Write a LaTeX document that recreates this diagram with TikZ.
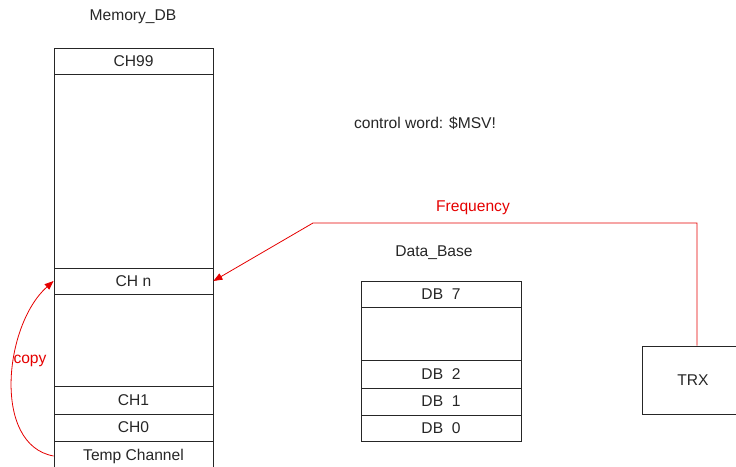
\documentclass[tikz,border=0pt]{standalone}
\usepackage{fontspec}
\setmainfont{Liberation Sans}
\usetikzlibrary{arrows.meta}
\begin{document}
\begin{tikzpicture}[x=1pt,y=-1pt,
  font=\fontsize{15.6}{18}\selectfont,
  cell/.style={draw=black!85, line width=0.8pt, rectangle, inner sep=0pt, text=black!85},
  lbl/.style={text=black!85, inner sep=0pt},
  redline/.style={draw=red!90!black, line width=0.8pt},
  redtip/.style={-{Triangle[length=9pt,width=7pt]}},
  redlbl/.style={text=red!90!black, inner sep=0pt}]
\useasboundingbox (0,0) rectangle (736,466);
\clip (0,0) rectangle (736,466);
% Memory_DB column
\node[lbl] (mlabel) at (133,17) {Memory\_DB};
\node[cell, minimum width=159pt, minimum height=26pt] (ch99) at (133.5,61) {CH99};
\node[cell, minimum width=159pt, minimum height=194pt] (mgap1) at (133.5,171) {};
\node[cell, minimum width=159pt, minimum height=26pt] (chn) at (133.5,281) {CH n};
\node[cell, minimum width=159pt, minimum height=92pt] (mgap2) at (133.5,340) {};
\node[cell, minimum width=159pt, minimum height=28pt] (ch1) at (133.5,400) {CH1};
\node[cell, minimum width=159pt, minimum height=27pt] (ch0) at (133.5,427.5) {CH0};
\node[cell, minimum width=159pt, minimum height=30pt] (temp) at (133.5,456) {Temp Channel};
% control word
\node[lbl] (cw) at (425,123) {control word: \$MSV!};
% Data_Base column
\node[lbl] (dlabel) at (434,253) {Data\_Base};
\node[cell, minimum width=160pt, minimum height=26pt] (db7) at (441,294) {DB\ \ 7};
\node[cell, minimum width=160pt, minimum height=53pt] (dgap) at (441,333.5) {};
\node[cell, minimum width=160pt, minimum height=28pt] (db2) at (441,374) {DB\ \ 2};
\node[cell, minimum width=160pt, minimum height=27pt] (db1) at (441,401.5) {DB\ \ 1};
\node[cell, minimum width=160pt, minimum height=26pt] (db0) at (441,428) {DB\ \ 0};
% TRX
\node[cell, minimum width=102pt, minimum height=68pt] (trx) at (693,380) {TRX};
% Frequency connector
\coordinate (f1) at (697,223);
\coordinate (f2) at (313,223);
\draw[redline, redtip] (trx.north -| f1) -- (f1) -- (f2) -- (chn.east);
\node[redlbl] (freq) at (473,208) {Frequency};
% copy connector
\coordinate (cs) at (temp.west);
\draw[redline, redtip] (cs) .. controls (-8,445) and (4,325) .. (chn.west);
\node[redlbl] (copy) at (30,361) {copy};
\end{tikzpicture}
\end{document}
